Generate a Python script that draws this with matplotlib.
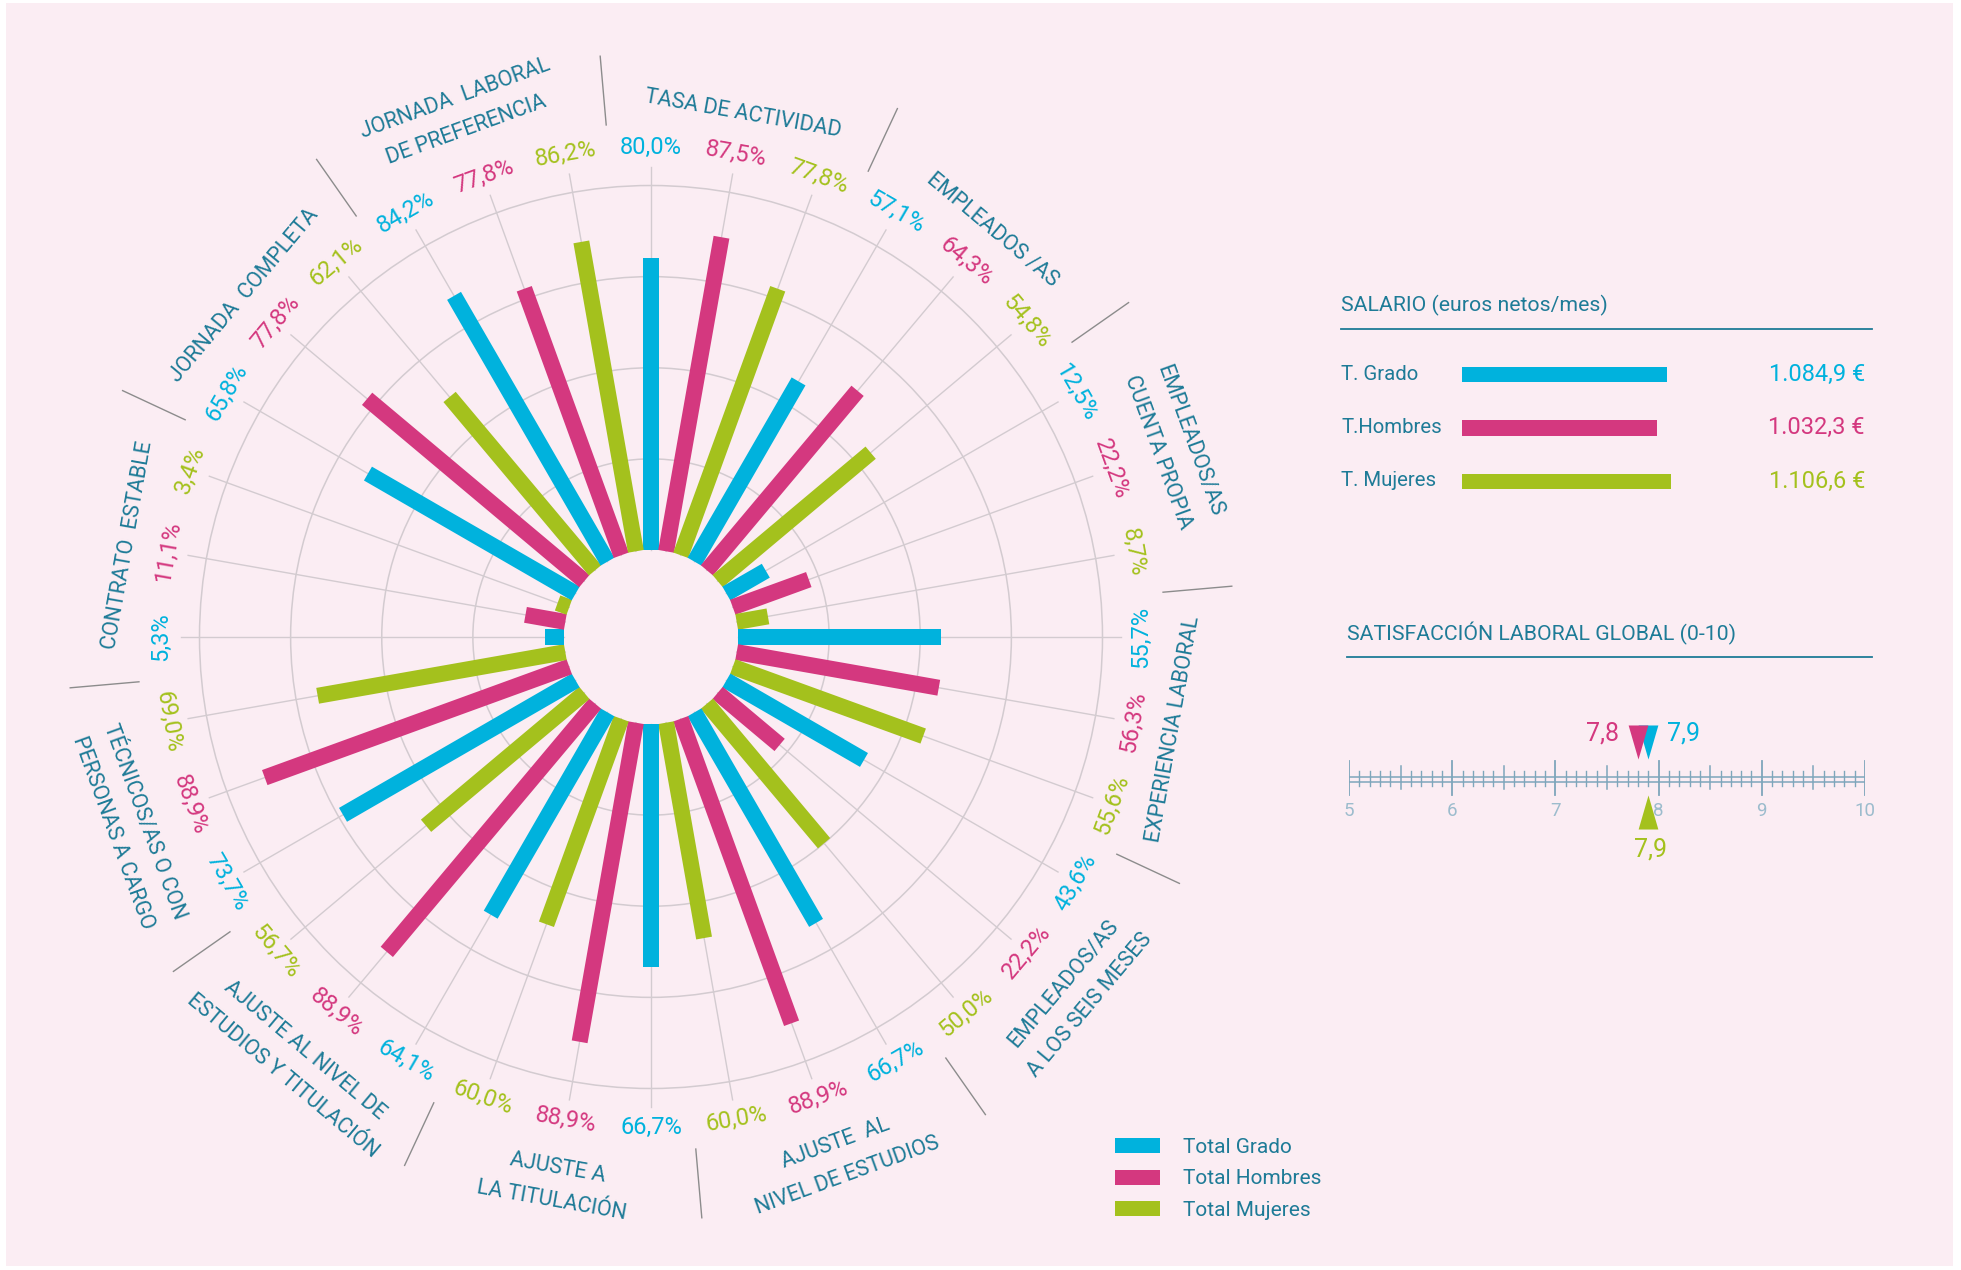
import numpy as np
import matplotlib
matplotlib.use("Agg")
from matplotlib import pyplot as plt
from matplotlib.patches import Rectangle, Circle, Patch

plt.rcParams['font.family'] = ['Roboto', 'DejaVu Sans']

# ---- data ----
categories = [
    "TASA DE ACTIVIDAD",
    "EMPLEADOS /AS",
    "EMPLEADOS/AS\nCUENTA PROPIA",
    "EXPERIENCIA LABORAL",
    "EMPLEADOS/AS\nA LOS SEIS MESES",
    "AJUSTE  AL\nNIVEL DE ESTUDIOS",
    "AJUSTE A\nLA TITULACIÓN",
    "AJUSTE AL NIVEL DE\nESTUDIOS Y TITULACIÓN",
    "TÉCNICOS/AS O CON\nPERSONAS A CARGO",
    "CONTRATO  ESTABLE",
    "JORNADA  COMPLETA",
    "JORNADA  LABORAL\nDE PREFERENCIA",
]
grado = [80.0, 57.1, 12.5, 55.7, 43.6, 66.7, 66.7, 64.1, 73.7, 5.3, 65.8, 84.2]
hombres = [87.5, 64.3, 22.2, 56.3, 22.2, 88.9, 88.9, 88.9, 88.9, 11.1, 77.8, 77.8]
mujeres = [77.8, 54.8, 8.7, 55.6, 50.0, 60.0, 60.0, 56.7, 69.0, 3.4, 62.1, 86.2]
series_names = ["Total Grado", "Total Hombres", "Total Mujeres"]
grid_levels = [25, 50, 75, 100]

salary_labels = ["T. Grado", "T.Hombres", "T. Mujeres"]
salary_values = [1084.9, 1032.3, 1106.6]
salary_texts = ["1.084,9 €", "1.032,3 €", "1.106,6 €"]

satisfaction = [7.9, 7.8, 7.9]   # grado, hombres, mujeres
scale_ticks = [5, 6, 7, 8, 9, 10]

# ---- style ----
BG = "#fbedf3"
TEAL = "#1e7b97"
GRID = "#d3cbd0"
SEP = "#8c8c8c"
colors = ["#00b2dd", "#d4387f", "#a4c11d"]
SCALE_COL = "#7ea6bb"
SCALE_TXT = "#9cbccd"

W, H = 1961, 1270
fig = plt.figure(figsize=(W / 100, H / 100), dpi=100, facecolor="white")
ax = fig.add_axes([0, 0, 1, 1])
ax.set_xlim(0, W)
ax.set_ylim(H, 0)
ax.axis("off")
ax.add_patch(Rectangle((6, 3), 1947, 1263, facecolor=BG, edgecolor="none", zorder=0))

# radial chart geometry (pixels)
cx, cy = 651, 637
R0 = 87        # radius of value 0
K = 3.645      # pixels per percent


def pt(r, deg):
    a = np.deg2rad(deg)
    return cx + r * np.cos(a), cy - r * np.sin(a)


def text_rot(deg):
    deg = deg % 360
    if 0 < deg <= 180:
        return deg - 90
    return deg + 90


for lv in grid_levels:
    ax.add_patch(Circle((cx, cy), R0 + K * lv, fill=False, ec=GRID, lw=1.1, zorder=1))

series = [grado, hombres, mujeres]
for k in range(len(categories)):
    for s in range(3):
        i = 3 * k + s
        ang = 90 - 10 * i
        v = series[s][k]
        # spoke
        x0, y0 = pt(R0, ang)
        x1, y1 = pt(470, ang)
        ax.plot([x0, x1], [y0, y1], color=GRID, lw=1.0, zorder=1)
        # bar
        xb, yb = pt(R0 + K * v, ang)
        ax.plot([x0, xb], [y0, yb], color=colors[s], lw=16 * 0.72,
                solid_capstyle="butt", zorder=3)
        # value label
        xt, yt = pt(490, ang)
        lab = f"{v:.1f}".replace(".", ",") + "%"
        ax.text(xt, yt, lab, rotation=text_rot(ang), rotation_mode="anchor",
                ha="center", va="center", color=colors[s], fontsize=17, zorder=4)

    # category label
    mid = 80 - 30 * k
    r = 556 if "\n" in categories[k] else 531
    xt, yt = pt(r, mid)
    ax.text(xt, yt, categories[k], rotation=text_rot(mid), rotation_mode="anchor",
            ha="center", va="center", multialignment="center", color=TEAL,
            fontsize=15.5, linespacing=1.8, zorder=4)

    # separator
    sep = 95 - 30 * k
    xa, ya = pt(514, sep)
    xc, yc = pt(583, sep)
    ax.plot([xa, xc], [ya, yc], color=SEP, lw=1.0, zorder=2)

# ---- salary panel ----
ax.text(1341, 305, "SALARIO (euros netos/mes)", ha="left", va="center",
        color=TEAL, fontsize=15.3)
ax.plot([1341, 1872], [329, 329], color=TEAL, lw=1.3)

sal_xmax = 1200
sal_left, sal_top, sal_bot = 1462, 350.0, 506.0
ax_sal = fig.add_axes([sal_left / W, 1 - sal_bot / H, 0.189 * sal_xmax / W, (sal_bot - sal_top) / H])
ax_sal.set_xlim(0, sal_xmax)
ax_sal.set_ylim(2.45, -0.45)
ax_sal.barh(range(3), salary_values, height=15 / 53.5, color=colors)
ax_sal.axis("off")
for j in range(3):
    yy = 374 + 53.5 * j
    ax.text(1341, yy, salary_labels[j], ha="left", va="center", color=TEAL, fontsize=14.7)
    ax.text(1865, yy, salary_texts[j], ha="right", va="center", color=colors[j], fontsize=17)

# ---- satisfaction panel ----
ax.text(1347, 633, "SATISFACCIÓN LABORAL GLOBAL (0-10)", ha="left", va="center",
        color=TEAL, fontsize=15.3)
ax.plot([1347, 1872], [657, 657], color=TEAL, lw=1.3)

ax_sat = fig.add_axes([1349 / W, 1 - 870 / H, (1865 - 1349) / W, 170 / H])
ax_sat.set_xlim(5, 10)
ax_sat.set_ylim(870, 700)
ax_sat.axis("off")
for yl in (777, 782):
    ax_sat.plot([5, 10], [yl, yl], color=SCALE_COL, lw=1.1, solid_capstyle="butt")
for n in range(51):
    t = 5 + n / 10
    if n % 10 == 0:
        y0, y1, lw = 761, 795, 1.3
    elif n % 5 == 0:
        y0, y1, lw = 766, 789, 1.1
    else:
        y0, y1, lw = 771, 786, 1.0
    ax_sat.plot([t, t], [y0, y1], color=SCALE_COL, lw=lw)
for t in scale_ticks:
    ax_sat.text(t, 811, str(t), ha="center", va="center", color=SCALE_TXT, fontsize=13.5)

down = [(-0.29, 0.5), (0.29, 0.5), (0.0, -0.5)]
up = [(-0.29, -0.5), (0.29, -0.5), (0.0, 0.5)]
ax_sat.plot(satisfaction[0], 742, marker=down, ms=24.5, color=colors[0], mew=0, ls="none")
ax_sat.plot(satisfaction[1], 742, marker=down, ms=24.5, color=colors[1], mew=0, ls="none")
ax_sat.plot(satisfaction[2], 812, marker=up, ms=24.5, color=colors[2], mew=0, ls="none")
fmt = lambda v: f"{v:.1f}".replace(".", ",")
ax_sat.annotate(fmt(satisfaction[1]), (satisfaction[1], 733), xytext=(-35, 0),
                textcoords="offset pixels", ha="center", va="center",
                color=colors[1], fontsize=18)
ax_sat.annotate(fmt(satisfaction[0]), (satisfaction[0], 733), xytext=(35, 0),
                textcoords="offset pixels", ha="center", va="center",
                color=colors[0], fontsize=18)
ax_sat.annotate(fmt(satisfaction[2]), (satisfaction[2], 850), xytext=(2, 0),
                textcoords="offset pixels", ha="center", va="center",
                color=colors[2], fontsize=18)

# ---- legend ----
handles = [Patch(facecolor=c, edgecolor="none", label=n) for c, n in zip(colors, series_names)]
fig.legend(handles=handles, loc="upper left", bbox_to_anchor=(1115 / W, 1 - 1138 / H),
           frameon=False, fontsize=15, handlelength=2.15, handleheight=0.75,
           handletextpad=1.1, labelspacing=0.6, borderaxespad=0, borderpad=0,
           labelcolor=TEAL)

fig.savefig("out.png", dpi=100, facecolor="white")
